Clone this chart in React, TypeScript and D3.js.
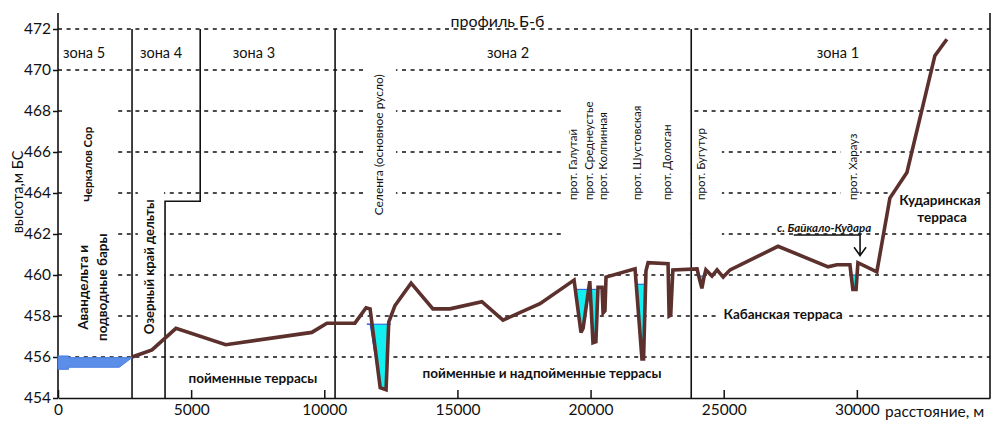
import { useEffect, useRef } from "react";
import * as d3 from "d3";

// profile B-b: distance (m) and elevation (m BS)
const profileDist = [
  2780, 3530, 4430, 6300, 9530, 10100, 11150, 11570, 11720, 12100, 12320, 12420,
  12650, 13260, 14080, 14720, 15920, 16710, 18100, 19380, 19640, 19720, 19970,
  20090, 20200, 20280, 20430, 20470, 20540, 20580, 21670, 21930, 21990, 22080,
  22160, 22910, 22950, 23010, 23090, 24000, 24070, 24180, 24260, 24330, 24560,
  24750, 24980, 25240, 27040, 28920, 29250, 29740, 29850, 29970, 30040, 30750,
  31240, 31880, 32930, 33380,
];
const profileElev = [
  456.0, 456.35, 457.4, 456.6, 457.2, 457.65, 457.65, 458.4, 458.35, 454.5, 454.4, 457.7,
  458.5, 459.6, 458.35, 458.35, 458.7, 457.8, 458.6, 459.75, 457.2, 457.4, 459.7,
  456.7, 456.75, 459.4, 459.4, 458.15, 458.25, 459.9, 460.3, 455.9, 455.9, 460.2,
  460.6, 460.55, 458.0, 458.05, 460.25, 460.3, 459.9, 459.35, 459.9, 460.25, 459.95,
  460.25, 459.9, 460.25, 461.4, 460.4, 460.5, 460.5, 459.3, 459.3, 460.6, 460.15,
  463.75, 465.0, 470.7, 471.5,
];

// avandelta water body (zone 5)
const lakeDist = [0, 400, 400, 2780, 2300, 400, 400, 0];
const lakeElev = [456.05, 456.05, 455.97, 455.97, 455.5, 455.5, 455.4, 455.4];

// water in channels
const waterLevel = [457.6, 459.3, 459.55, 459.95, 460.0];
const waterFrom = [11600, 19400, 21700, 24050, 29800];
const waterTo = [12500, 20300, 22100, 24300, 30020];

const zoneNames = ["зона 5", "зона 4", "зона 3", "зона 2", "зона 1"];
const zoneLabelDist = [980, 3870, 7360, 16900, 29290];
const zoneBorders = [2780, 10405, 23780];

const channelNames = [
  "прот. Галутай", "прот. Среднеустье", "прот. Колпинная", "прот. Шустовская",
  "прот. Дологан", "прот. Бугутур", "прот. Харауз",
];
const channelDist = [19340, 19940, 20430, 21740, 22870, 24110, 29850];

const xTicks = [0, 5000, 10000, 15000, 20000, 25000, 30000];
const yTicks = [454, 456, 458, 460, 462, 464, 466, 468, 470, 472];
const gridLevels = [456, 458, 460, 462, 464, 466, 468, 470, 472];

const W = 993;
const H = 424;
const FONT = "Lato, 'Noto Sans', sans-serif";
const BROWN = "#5c302d";

const x = d3.scaleLinear().domain([0, 35000]).range([58, 990]);
const y = d3.scaleLinear().domain([454, 472]).range([398, 29]);

function elevAt(d: number) {
  for (let i = 0; i < profileDist.length - 1; i++) {
    if (d >= profileDist[i] && d <= profileDist[i + 1]) {
      const t = (d - profileDist[i]) / (profileDist[i + 1] - profileDist[i] || 1);
      return profileElev[i] + t * (profileElev[i + 1] - profileElev[i]);
    }
  }
  return profileElev[profileElev.length - 1];
}

export default function App() {
  const xAxisRef = useRef<SVGGElement>(null);
  const yAxisRef = useRef<SVGGElement>(null);

  useEffect(() => {
    const xa = d3.select(xAxisRef.current);
    xa.selectAll("*").remove();
    xa.call(
      d3.axisBottom(x).tickValues(xTicks).tickFormat(d3.format("d")).tickSizeInner(-8).tickSizeOuter(0).tickPadding(6)
    );
    xa.select(".domain").attr("stroke", "#111").attr("stroke-width", 1.5);
    xa.selectAll(".tick line").attr("stroke", "#111").attr("stroke-width", 1.5);
    xa.selectAll(".tick text").attr("font-family", FONT).attr("font-size", 15.5).attr("fill", "#111");

    const ya = d3.select(yAxisRef.current);
    ya.selectAll("*").remove();
    ya.call(d3.axisLeft(y).tickValues(yTicks).tickSize(5).tickPadding(2));
    ya.select(".domain").remove();
    ya.selectAll(".tick line").attr("stroke", "#111").attr("stroke-width", 1.5);
    ya.selectAll(".tick text").attr("font-family", FONT).attr("font-size", 15.5).attr("fill", "#111");
  }, []);

  const line = d3
    .line<number>()
    .x((_, i) => x(profileDist[i]))
    .y((d) => y(d));

  const lakePath =
    "M" + lakeDist.map((d, i) => `${x(d)},${y(lakeElev[i])}`).join("L") + "Z";

  // channel water: between level and bed, using profile vertices
  const waterPaths = waterLevel.map((lvl, k) => {
    const xs = [waterFrom[k], ...profileDist.filter((d) => d > waterFrom[k] && d < waterTo[k]), waterTo[k]];
    const area = d3
      .area<number>()
      .x((d) => x(d))
      .y0(y(lvl))
      .y1((d) => y(Math.min(elevAt(d), lvl)));
    return area(xs) as string;
  });

  // white boxes behind labels (dist0, dist1, elevTop, elevBottom)
  const masks = [
    [263, 2215, 468.78, 456.59],
    [3000, 3980, 464.39, 456.59],
    [11570, 12690, 471.2, 462.44],
    [18960, 23730, 468.78, 461.22],
    [23730, 24930, 467.07, 461.22],
    [29400, 30120, 466.83, 463.07],
    [31430, 34810, 464.24, 462.39],
    [24860, 29550, 458.39, 457.5],
  ];

  const vText = (
    label: string,
    d: number,
    e: number,
    size: number,
    weight: string,
    anchor: string,
    key: string
  ) => (
    <text
      key={key}
      transform={`translate(${x(d)},${y(e)}) rotate(-90)`}
      textAnchor={anchor}
      dominantBaseline="central"
      fontSize={size}
      fontWeight={weight}
      fill="#111"
    >
      {label}
    </text>
  );

  return (
    <svg
      width={W}
      height={H}
      style={{ position: "absolute", left: 0, top: 0, background: "#fff" }}
      fontFamily={FONT}
    >
      <rect width={W} height={H} fill="#fff" />

      {/* grid */}
      {gridLevels.map((g) => (
        <line
          key={g}
          x1={x(0)}
          x2={x(35000)}
          y1={y(g)}
          y2={y(g)}
          stroke="#111"
          strokeWidth={1.6}
          strokeDasharray="4,4.6"
        />
      ))}

      {masks.map((m, i) => (
        <rect
          key={i}
          x={x(m[0])}
          y={y(m[2])}
          width={x(m[1]) - x(m[0])}
          height={y(m[3]) - y(m[2])}
          fill="#fff"
        />
      ))}

      {/* frame and zone borders */}
      <line x1={x(0)} x2={x(0)} y1={13} y2={y(454)} stroke="#111" strokeWidth={1.6} />
      <line x1={x(35000)} x2={x(35000)} y1={13} y2={y(454)} stroke="#111" strokeWidth={1.6} />
      {zoneBorders.map((b) => (
        <line key={b} x1={x(b)} x2={x(b)} y1={y(472)} y2={y(454)} stroke="#111" strokeWidth={1.6} />
      ))}
      <path
        d={`M${x(4020)},${y(454)}V${y(463.6)}H${x(5340)}V${y(472)}`}
        fill="none"
        stroke="#111"
        strokeWidth={1.6}
      />

      <g ref={xAxisRef} transform={`translate(0,${y(454)})`} />
      <g ref={yAxisRef} transform={`translate(${x(0)},0)`} />

      {/* water */}
      <path d={lakePath} fill="#5a8ee8" stroke="#4a7de0" strokeWidth={1} />
      {waterPaths.map((p, i) => (
        <path key={i} d={p} fill="#13eef0" stroke="#2a55d8" strokeWidth={1} />
      ))}

      {/* profile */}
      <path
        d={line(profileElev) as string}
        fill="none"
        stroke={BROWN}
        strokeWidth={3.6}
        strokeLinejoin="miter"
        strokeMiterlimit={3}
      />

      {/* titles */}
      <text x={x(16500)} y={20} textAnchor="middle" dominantBaseline="central" fontSize={16} fill="#111">
        профиль Б-б
      </text>
      {zoneNames.map((z, i) => (
        <text
          key={z}
          x={x(zoneLabelDist[i])}
          y={52}
          textAnchor="middle"
          dominantBaseline="central"
          fontSize={14.5}
          fill="#111"
        >
          {z}
        </text>
      ))}
      <text
        transform={`translate(17,${y(464.05)}) rotate(-90)`}
        textAnchor="middle"
        dominantBaseline="central"
        fontSize={14.5}
        fill="#111"
      >
        высота,м БС
      </text>
      <text x={885} y={411} dominantBaseline="central" fontSize={15.5} fill="#111">
        расстояние, м
      </text>

      {/* vertical labels */}
      {vText("Черкалов Сор", 1090, 465.4, 11.5, "bold", "middle", "ch")}
      {vText("Авандельта и", 940, 459.4, 13.5, "bold", "middle", "av1")}
      {vText("подводные бары", 1650, 459.4, 13.5, "bold", "middle", "av2")}
      {vText("Озерный край дельты", 3420, 460.4, 13, "bold", "middle", "oz")}
      {vText("Селенга (основное русло)", 12020, 466.35, 12, "normal", "middle", "sel")}
      {channelNames.map((c, i) => vText(c, channelDist[i], 463.66, 11.5, "normal", "start", c))}

      {/* horizontal labels */}
      <text x={x(7320)} y={y(454.97)} textAnchor="middle" dominantBaseline="central" fontSize={13.5} fontWeight="bold" fill="#111">
        пойменные террасы
      </text>
      <text x={x(18180)} y={y(455.2)} textAnchor="middle" dominantBaseline="central" fontSize={13.5} fontWeight="bold" fill="#111">
        пойменные и надпойменные террасы
      </text>
      <text x={x(27230)} y={y(458.1)} textAnchor="middle" dominantBaseline="central" fontSize={13.5} fontWeight="bold" fill="#111">
        Кабанская терраса
      </text>
      <text x={x(33120)} y={y(463.66)} textAnchor="middle" dominantBaseline="central" fontSize={13.5} fontWeight="bold" fill="#111">
        Кударинская
      </text>
      <text x={x(33200)} y={y(462.83)} textAnchor="middle" dominantBaseline="central" fontSize={13.5} fontWeight="bold" fill="#111">
        терраса
      </text>
      <text x={x(28770)} y={y(462.1)} textAnchor="middle" fontSize={11.5} fontWeight="bold" fontStyle="italic" fill="#111">
        с. Байкало-Кудара
      </text>
      <path
        d={`M${x(27630)},${y(461.95)}H${x(30120)}V${y(460.95)}M${x(30120) - 6},${y(461.35)}L${x(30120)},${y(460.95)}L${x(30120) + 6},${y(461.35)}`}
        fill="none"
        stroke="#111"
        strokeWidth={1.6}
      />
    </svg>
  );
}
